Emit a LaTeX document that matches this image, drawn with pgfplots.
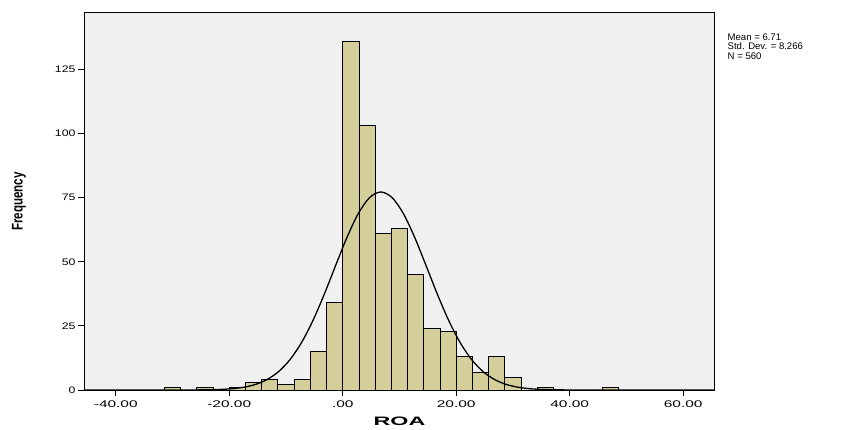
\documentclass[border=0pt]{standalone}
\usepackage{fontspec}
\setmainfont{Liberation Sans}
\newfontfamily\xtickfont[FakeStretch=1.6]{Liberation Sans}
\newfontfamily\ytickfont[FakeStretch=1.3]{Liberation Sans}
\newfontfamily\narrowfont[FakeStretch=0.75]{Liberation Sans}
\newfontfamily\widefont[FakeStretch=1.9]{Liberation Sans}
\usepackage{pgfplots}
\pgfplotsset{compat=1.18}
\definecolor{barfill}{RGB}{211,206,154}
\definecolor{plotbg}{RGB}{240,240,240}
\begin{document}
\begin{tikzpicture}
\path[use as bounding box] (0,0) rectangle (858bp,430bp);
\begin{axis}[
  at={(84bp,40bp)}, anchor=south west,
  scale only axis, width=631bp, height=377bp,
  xmin=-45.6, xmax=65.6, ymin=0, ymax=147,
  axis background/.style={fill=plotbg},
  axis line style={black, line width=1bp},
  xtick={-40,-20,0,20,40,60},
  xticklabels={-40.00,-20.00,.00,20.00,40.00,60.00},
  ytick={0,25,50,75,100,125},
  yticklabels={0,25,50,75,100,125},
  xtick pos=bottom, ytick pos=left,
  tick align=outside,
  major tick length=6bp,
  tick style={black, line width=1bp},
  x tick label style={font=\xtickfont\fontsize{9.7}{10}\selectfont, yshift=-1bp},
  y tick label style={font=\ytickfont\fontsize{9.5}{10}\selectfont, xshift=1bp},
  xlabel={ROA},
  ylabel={Frequency},
  every axis x label/.style={at={(axis description cs:0.5,0)}, yshift=-31.7bp, anchor=center, font=\widefont\bfseries\fontsize{12.3}{12}\selectfont},
  every axis y label/.style={at={(axis description cs:-0.103,0.5)}, rotate=90, anchor=center, font=\narrowfont\bfseries\fontsize{15.5}{15}\selectfont},
  clip=true,
]
\addplot[ybar, bar width=2.857143, fill=barfill, draw=black, line width=0.9bp] coordinates {
  (-30.000,1) (-24.286,1) (-18.571,1) (-15.714,3) (-12.857,4) (-10.000,2)
  (-7.143,4) (-4.286,15) (-1.429,34) (1.429,136) (4.286,103) (7.143,61)
  (10.000,63) (12.857,45) (15.714,24) (18.571,23) (21.429,13) (24.286,7)
  (27.143,13) (30.000,5) (35.714,1) (47.143,1)
};
\addplot[black, line width=1.3bp, smooth] coordinates {
  (-45.6,0) (-33.29,0.001) (-31.29,0.002) (-27.29,0.016) (-25.29,0.043) (-23.29,0.11) (-21.29,0.25)
  (-19.29,0.55) (-17.29,1.14) (-15.29,2.24) (-13.29,4.14) (-11.29,7.21)
  (-9.29,11.86) (-7.29,18.40) (-5.29,26.92) (-3.29,37.15) (-1.29,48.34)
  (0.71,59.33) (2.71,68.69) (4.71,74.99) (6.71,77.22) (8.71,74.99)
  (10.71,68.69) (12.71,59.33) (14.71,48.34) (16.71,37.15) (18.71,26.92)
  (20.71,18.40) (22.71,11.86) (24.71,7.21) (26.71,4.14) (28.71,2.24)
  (30.71,1.14) (32.71,0.55) (34.71,0.25) (36.71,0.11) (38.71,0.043)
  (40.71,0.016) (44.71,0.002) (46.71,0.001) (65.6,0)
};
\end{axis}
\node[anchor=north west, inner sep=0pt, align=left, font=\fontsize{9.6}{9.6}\selectfont] at (727.5bp,396.5bp) {Mean = 6.71\\Std. Dev. = 8.266\\N = 560};
\end{tikzpicture}
\end{document}
